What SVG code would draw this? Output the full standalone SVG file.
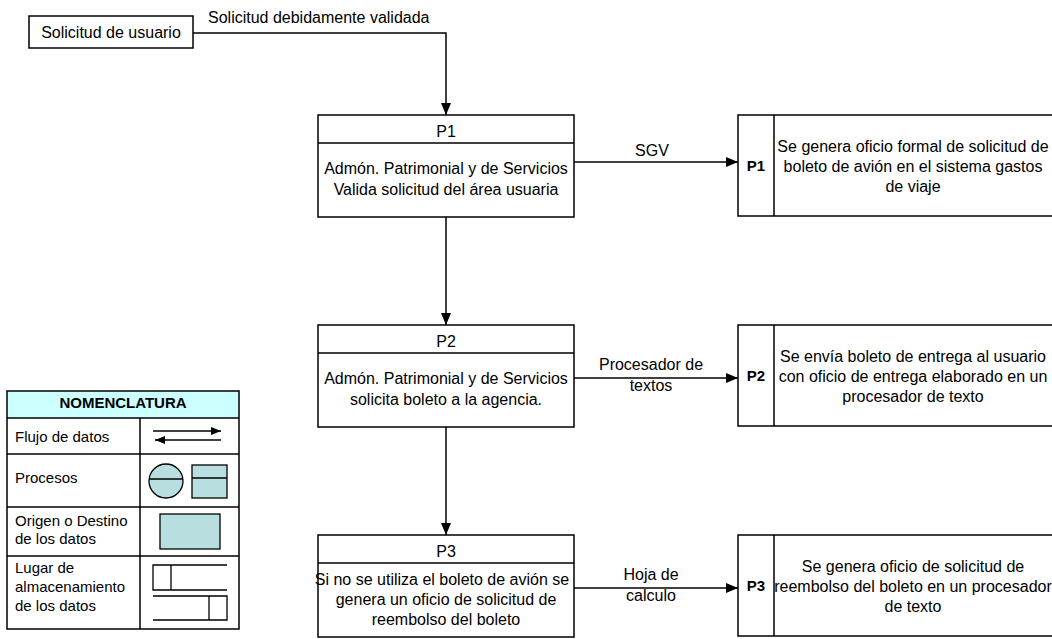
<svg xmlns="http://www.w3.org/2000/svg" width="1052" height="639" viewBox="0 0 1052 639">
  <style>
    text { font-family: "Liberation Sans", Arial, sans-serif; font-size: 16px; fill: #000; }
    .c { text-anchor: middle; }
    .b { font-weight: bold; }
    .lg { font-size: 15px; }
    .box { fill: #fff; stroke: #000; stroke-width: 1.5; }
    .ln { fill: none; stroke: #000; stroke-width: 1.5; }
    .flow { fill: none; stroke: #000; stroke-width: 1.5; marker-end: url(#arrow); }
    .sym { fill: #b8dee0; stroke: #000; stroke-width: 1.3; }
  </style>
  <defs>
    <marker id="arrow" viewBox="0 0 12 10" refX="12" refY="5" markerWidth="12" markerHeight="10" markerUnits="userSpaceOnUse" orient="auto">
      <path d="M0,0 L12,5 L0,10 Z" fill="#000"/>
    </marker>
    <marker id="arrowS" viewBox="0 0 10 8" refX="10" refY="4" markerWidth="10" markerHeight="8" markerUnits="userSpaceOnUse" orient="auto">
      <path d="M0,0 L10,4 L0,8 Z" fill="#000"/>
    </marker>
  </defs>
  <rect width="1052" height="639" fill="#fff"/>

  <!-- connectors -->
  <g id="connectors">
    <path class="flow" d="M193,33 H446 V115"/>
    <text x="208" y="23">Solicitud debidamente validada</text>
    <path class="flow" d="M574,162 H738"/>
    <text class="c" x="652" y="156">SGV</text>
    <path class="flow" d="M446,217 V325"/>
    <path class="flow" d="M574,378 H738"/>
    <text class="c" x="651" y="370">Procesador de</text>
    <text class="c" x="651" y="391">textos</text>
    <path class="flow" d="M446,427 V535"/>
    <path class="flow" d="M574,588 H738"/>
    <text class="c" x="651" y="580">Hoja de</text>
    <text class="c" x="651" y="601">calculo</text>
  </g>

  <!-- external source -->
  <g id="origen">
    <rect class="box" x="29" y="16" width="164" height="32"/>
    <text class="c" x="111" y="38">Solicitud de usuario</text>
  </g>

  <!-- processes -->
  <g id="proc-p1">
    <rect class="box" x="318" y="115" width="256" height="102"/>
    <line class="ln" x1="318" y1="143" x2="574" y2="143"/>
    <text class="c" x="446" y="137">P1</text>
    <text class="c" x="446" y="174">Admón. Patrimonial y de Servicios</text>
    <text class="c" x="446" y="195">Valida solicitud del área usuaria</text>
  </g>
  <g id="proc-p2">
    <rect class="box" x="318" y="325" width="256" height="102"/>
    <line class="ln" x1="318" y1="353" x2="574" y2="353"/>
    <text class="c" x="446" y="347">P2</text>
    <text class="c" x="446" y="384">Admón. Patrimonial y de Servicios</text>
    <text class="c" x="446" y="405">solicita boleto a la agencia.</text>
  </g>
  <g id="proc-p3">
    <rect class="box" x="318" y="535" width="256" height="102"/>
    <line class="ln" x1="318" y1="563" x2="574" y2="563"/>
    <text class="c" x="446" y="557">P3</text>
    <text class="c" x="442" y="585">Si no se utiliza el boleto de avión se</text>
    <text class="c" x="446" y="605">genera un oficio de solicitud de</text>
    <text class="c" x="446" y="625">reembolso del boleto</text>
  </g>

  <!-- data stores -->
  <g id="store-p1">
    <rect class="box" x="738" y="115" width="316" height="101"/>
    <line class="ln" x1="774" y1="115" x2="774" y2="216"/>
    <text class="c b" x="756" y="171" style="font-size:15px">P1</text>
    <text class="c" x="913" y="152">Se genera oficio formal de solicitud de</text>
    <text class="c" x="913" y="172">boleto de avión en el sistema gastos</text>
    <text class="c" x="913" y="192">de viaje</text>
  </g>
  <g id="store-p2">
    <rect class="box" x="738" y="325" width="316" height="101"/>
    <line class="ln" x1="774" y1="325" x2="774" y2="426"/>
    <text class="c b" x="756" y="381" style="font-size:15px">P2</text>
    <text class="c" x="913" y="362">Se envía boleto de entrega al usuario</text>
    <text class="c" x="913" y="382">con oficio de entrega elaborado en un</text>
    <text class="c" x="913" y="402">procesador de texto</text>
  </g>
  <g id="store-p3">
    <rect class="box" x="738" y="535" width="316" height="101"/>
    <line class="ln" x1="774" y1="535" x2="774" y2="636"/>
    <text class="c b" x="756" y="591" style="font-size:15px">P3</text>
    <text class="c" x="913" y="572">Se genera oficio de solicitud de</text>
    <text class="c" x="913" y="592">reembolso del boleto en un procesador</text>
    <text class="c" x="913" y="612">de texto</text>
  </g>

  <!-- legend -->
  <g id="nomenclatura">
    <rect x="7" y="391" width="232" height="27" fill="#ccffff"/>
    <rect class="ln" x="7" y="391" width="232" height="238"/>
    <line class="ln" x1="7" y1="418" x2="239" y2="418"/>
    <line class="ln" x1="7" y1="454" x2="239" y2="454"/>
    <line class="ln" x1="7" y1="507" x2="239" y2="507"/>
    <line class="ln" x1="7" y1="556" x2="239" y2="556"/>
    <line class="ln" x1="140" y1="418" x2="140" y2="629"/>
    <text class="c b lg" x="123" y="408">NOMENCLATURA</text>
    <text class="lg" x="15" y="442">Flujo de datos</text>
    <text class="lg" x="15" y="483">Procesos</text>
    <text class="lg" x="15" y="526">Origen o Destino</text>
    <text class="lg" x="15" y="544">de los datos</text>
    <text class="lg" x="15" y="573">Lugar de</text>
    <text class="lg" x="15" y="592">almacenamiento</text>
    <text class="lg" x="15" y="611">de los datos</text>
    <!-- flow symbol -->
    <line x1="153" y1="431" x2="221" y2="431" stroke="#000" stroke-width="1.3" marker-end="url(#arrowS)"/>
    <line x1="221" y1="440" x2="155" y2="440" stroke="#000" stroke-width="1.3" marker-end="url(#arrowS)"/>
    <!-- process symbols -->
    <circle class="sym" cx="166" cy="481" r="17"/>
    <line x1="149" y1="479" x2="183" y2="479" stroke="#000" stroke-width="1.3"/>
    <rect class="sym" x="192" y="465" width="35" height="33"/>
    <line x1="192" y1="478" x2="227" y2="478" stroke="#000" stroke-width="1.3"/>
    <!-- origin symbol -->
    <rect class="sym" x="160" y="514" width="60" height="35"/>
    <!-- store symbols -->
    <path d="M227,565 H153 V590 H227 M171,565 V590" fill="none" stroke="#000" stroke-width="1.3"/>
    <path d="M153,596 H227 V620 H153 M209,596 V620" fill="none" stroke="#000" stroke-width="1.3"/>
  </g>
</svg>
